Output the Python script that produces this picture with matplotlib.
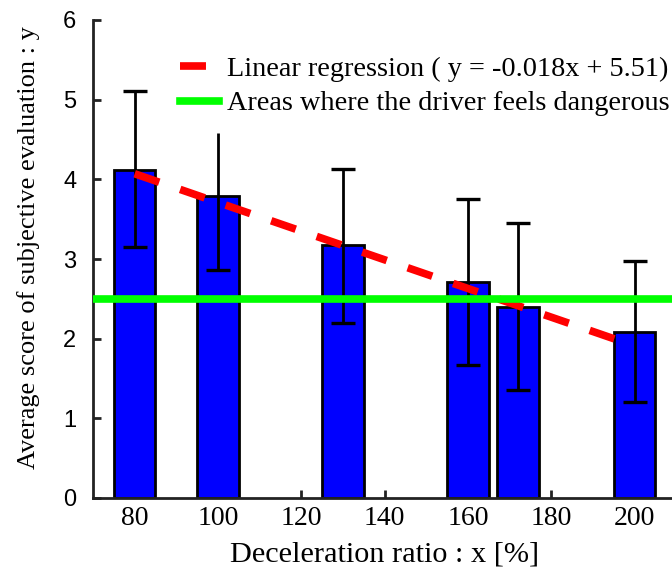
import numpy as np
import matplotlib
matplotlib.use("Agg")
import matplotlib.pyplot as plt

# data
ratio = [80, 100, 130, 160, 172, 200]
score = [4.12, 3.79, 3.17, 2.71, 2.40, 2.08]
err_hi = [5.11, 4.58, 4.13, 3.75, 3.45, 2.97]
err_lo = [3.15, 2.86, 2.20, 1.67, 1.35, 1.20]
top_cap = [True, False, True, True, True, True]
slope, intercept = -0.018, 5.51
danger_level = 2.5
xticks = [80, 100, 120, 140, 160, 180, 200]
yticks = [0, 1, 2, 3, 4, 5, 6]

serif = "Liberation Serif"
sans = "Liberation Sans"
plt.rcParams["font.family"] = [serif, "DejaVu Serif"]

fig = plt.figure(figsize=(6.72, 5.67), dpi=100)
# axes runs past the right edge of the picture, like the original
ax = fig.add_axes([93 / 672, 69 / 567, 604 / 672, 478 / 567])

ax.bar(ratio, score, width=10, color="#0000ff", edgecolor="black", linewidth=2, zorder=2)

# error bars, caps drawn separately (100 has no top cap)
ax.vlines(ratio, err_lo, err_hi, color="black", linewidth=2, zorder=3)
ax.plot(ratio, err_lo, linestyle="none", marker="_", markersize=17,
        markeredgewidth=2.4, color="black", zorder=3)
cx = [r for r, c in zip(ratio, top_cap) if c]
cy = [h for h, c in zip(err_hi, top_cap) if c]
ax.plot(cx, cy, linestyle="none", marker="_", markersize=17,
        markeredgewidth=2.4, color="black", zorder=3)

xs = np.array([80, 200])
ax.plot(xs, slope * xs + intercept, color="#ff0000", linewidth=5.5,
        dashes=(3.4, 2.9), zorder=4,
        label="Linear regression ( y = -0.018x + 5.51)")
ax.axhline(danger_level, color="#00ff00", linewidth=5.5, zorder=5,
           label="Areas where the driver feels dangerous")

ax.set_xlim(70, 215)
ax.set_ylim(0, 6)
ax.tick_params(axis="both", direction="in", width=2, length=6, color="#222222")
ax.tick_params(axis="y", pad=12)
ax.tick_params(axis="x", pad=6)
ax.set_xticks(xticks, labels=[str(v) for v in xticks], fontfamily=serif, fontsize=20)
ax.set_yticks(yticks, labels=[str(v) for v in yticks], fontfamily=sans, fontsize=17)

for s in ["top", "right"]:
    ax.spines[s].set_visible(False)
for s in ["left", "bottom"]:
    ax.spines[s].set_linewidth(2)
    ax.spines[s].set_color("#222222")

ax.set_xlabel("Deceleration ratio : x [%]", fontfamily=serif, fontsize=21.8)
ax.xaxis.set_label_coords(0.483, -0.09)
ax.set_ylabel("Average score of subjective evaluation : y", fontfamily=serif, fontsize=19)
ax.yaxis.set_label_coords(-0.088, 0.523)

fig.legend(loc="upper left", bbox_to_anchor=(180 / 672, 1 - 56 / 567),
           frameon=False, prop={"family": serif, "size": 20.3},
           handlelength=1.37, handletextpad=0.3, labelspacing=0.32,
           borderpad=0, borderaxespad=0)

fig.savefig("out.png", dpi=100)
